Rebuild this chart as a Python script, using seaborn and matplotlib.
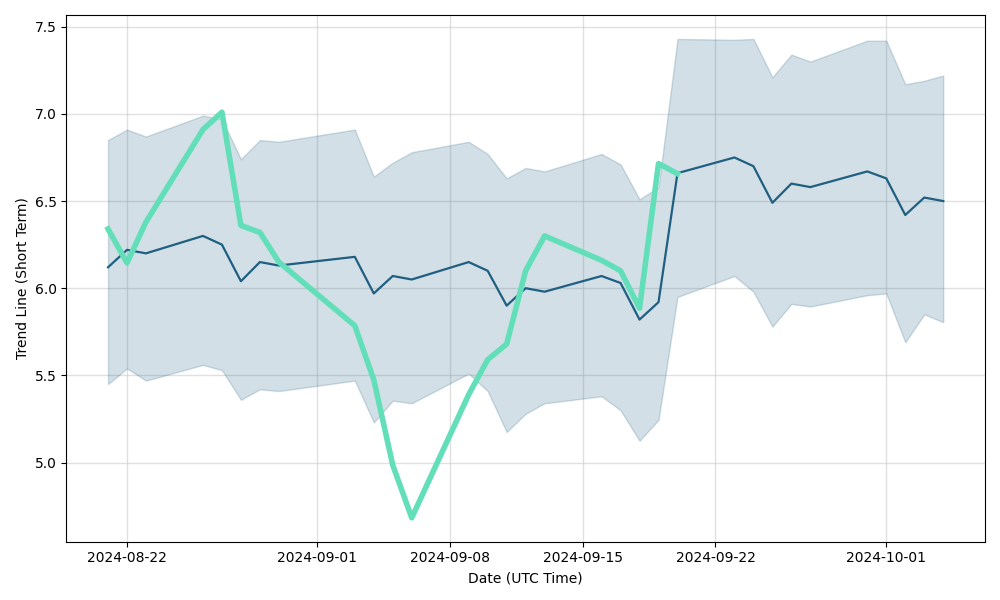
import matplotlib
matplotlib.use("Agg")
import matplotlib.pyplot as plt
import seaborn as sns
import pandas as pd
import numpy as np

dates = pd.to_datetime([
    "2024-08-21", "2024-08-22", "2024-08-23", "2024-08-26", "2024-08-27", "2024-08-28",
    "2024-08-29", "2024-08-30", "2024-09-03", "2024-09-04", "2024-09-05", "2024-09-06",
    "2024-09-09", "2024-09-10", "2024-09-11", "2024-09-12", "2024-09-13", "2024-09-16",
    "2024-09-17", "2024-09-18", "2024-09-19", "2024-09-20", "2024-09-23", "2024-09-24",
    "2024-09-25", "2024-09-26", "2024-09-27", "2024-09-30", "2024-10-01", "2024-10-02",
    "2024-10-03", "2024-10-04",
])

mean_line = [6.12, 6.22, 6.20, 6.30, 6.25, 6.04, 6.15, 6.13, 6.18, 5.97, 6.07, 6.05,
             6.15, 6.10, 5.90, 6.00, 5.98, 6.07, 6.03, 5.82, 5.92, 6.66, 6.75, 6.70,
             6.49, 6.60, 6.58, 6.67, 6.63, 6.42, 6.52, 6.50]

upper_band = [6.85, 6.91, 6.87, 6.99, 6.97, 6.74, 6.85, 6.84, 6.91, 6.64, 6.72, 6.78,
              6.84, 6.77, 6.63, 6.69, 6.67, 6.77, 6.71, 6.51, 6.58, 7.43, 7.425, 7.43,
              7.21, 7.34, 7.30, 7.42, 7.42, 7.17, 7.19, 7.22]

lower_band = [5.45, 5.54, 5.47, 5.56, 5.53, 5.36, 5.42, 5.41, 5.47, 5.23, 5.355, 5.34,
              5.51, 5.41, 5.175, 5.28, 5.34, 5.38, 5.30, 5.125, 5.245, 5.95, 6.07, 5.98,
              5.78, 5.91, 5.895, 5.96, 5.97, 5.69, 5.85, 5.805]

short_dates = dates[:22]
short_term = [6.34, 6.145, 6.38, 6.91, 7.01, 6.36, 6.32, 6.15, 5.785, 5.475, 4.985, 4.683,
              5.39, 5.59, 5.68, 6.10, 6.30, 6.16, 6.10, 5.885, 6.715, 6.657]

dark = "#1f5f82"
green = "#62dfb9"

df = pd.DataFrame({"date": dates, "mean": mean_line, "upper": upper_band, "lower": lower_band})
dfs = pd.DataFrame({"date": short_dates, "short": short_term})

fig, ax = plt.subplots(figsize=(10, 6), dpi=100)
ax.grid(True, color="#cccccc", alpha=0.6, linewidth=1)
ax.set_axisbelow(True)

ax.fill_between(df["date"], df["lower"], df["upper"], color=dark, alpha=0.2, linewidth=1)
sns.lineplot(data=df, x="date", y="mean", ax=ax, color=dark, linewidth=1.6)
sns.lineplot(data=dfs, x="date", y="short", ax=ax, color=green, linewidth=4)

ax.set_xlabel("Date (UTC Time)")
ax.set_ylabel("Trend Line (Short Term)")
fig.tight_layout()
fig.savefig("out.png")
